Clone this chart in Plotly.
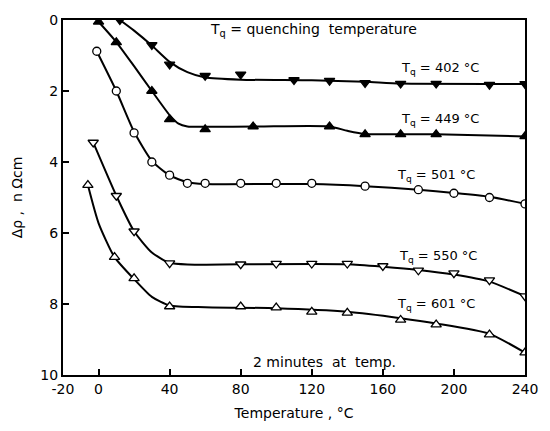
import plotly.graph_objects as go

# ---- data ----
x_402 = [12, 30, 40, 60, 80, 110, 130, 150, 170, 190, 220, 240]
y_402 = [0.0, 0.70, 1.25, 1.57, 1.53, 1.69, 1.71, 1.77, 1.79, 1.79, 1.82, 1.80]
cx_402 = [12, 20, 30, 40, 50, 60, 80, 120, 150, 170, 240]
cy_402 = [0.0, 0.30, 0.72, 1.18, 1.47, 1.62, 1.68, 1.70, 1.74, 1.79, 1.80]

x_449 = [0, 10, 30, 40, 60, 87, 130, 150, 170, 190, 240]
y_449 = [0.05, 0.63, 2.0, 2.8, 3.08, 3.0, 3.0, 3.22, 3.22, 3.22, 3.28]
cx_449 = [0, 10, 20, 30, 40, 45, 50, 60, 90, 130, 140, 150, 190, 240]
cy_449 = [0.05, 0.62, 1.30, 2.0, 2.68, 2.92, 3.0, 3.01, 3.0, 3.0, 3.12, 3.21, 3.22, 3.28]

x_501 = [-1, 10, 20, 30, 40, 50, 60, 80, 100, 120, 150, 180, 200, 220, 240]
y_501 = [0.88, 2.0, 3.18, 4.0, 4.37, 4.6, 4.6, 4.6, 4.6, 4.6, 4.68, 4.78, 4.88, 5.0, 5.18]
cx_501 = [-1, 10, 20, 30, 40, 50, 60, 100, 120, 150, 180, 200, 220, 240]
cy_501 = [0.88, 2.0, 3.15, 3.97, 4.38, 4.57, 4.62, 4.62, 4.62, 4.68, 4.78, 4.87, 4.98, 5.18]

x_550 = [-3, 10, 20, 40, 80, 100, 120, 140, 160, 180, 200, 220, 240]
y_550 = [3.45, 4.95, 5.95, 6.85, 6.88, 6.86, 6.86, 6.86, 6.93, 7.05, 7.13, 7.33, 7.78]
cx_550 = [-3, 10, 20, 30, 40, 50, 80, 140, 160, 180, 200, 220, 240]
cy_550 = [3.45, 4.95, 5.95, 6.55, 6.84, 6.89, 6.88, 6.88, 6.95, 7.04, 7.17, 7.37, 7.78]

x_601 = [-6, 9, 20, 40, 80, 100, 120, 140, 170, 190, 220, 240]
y_601 = [4.65, 6.68, 7.28, 8.07, 8.07, 8.1, 8.22, 8.25, 8.45, 8.58, 8.86, 9.37]
cx_601 = [-6, 0, 9, 20, 30, 40, 60, 100, 140, 170, 190, 220, 240]
cy_601 = [4.65, 5.72, 6.68, 7.30, 7.80, 8.04, 8.09, 8.12, 8.22, 8.40, 8.55, 8.84, 9.37]

labels = ["402", "449", "501", "550", "601"]
label_x = [192, 192, 190, 191, 190]
label_y = [1.36, 2.80, 4.37, 6.66, 8.0]

x_ticks = [-20, 0, 40, 80, 120, 160, 200, 240]
y_ticks = [0, 2, 4, 6, 8, 10]

FONT = "DejaVu Sans"

series = [
    (x_402, y_402, cx_402, cy_402, "triangle-down", "black"),
    (x_449, y_449, cx_449, cy_449, "triangle-up", "black"),
    (x_501, y_501, cx_501, cy_501, "circle", "white"),
    (x_550, y_550, cx_550, cy_550, "triangle-down", "white"),
    (x_601, y_601, cx_601, cy_601, "triangle-up", "white"),
]

fig = go.Figure()
for xs, ys, cxs, cys, sym, fill in series:
    fig.add_trace(go.Scatter(x=cxs, y=cys, mode="lines",
                             line=dict(color="black", width=2, shape="spline", smoothing=0.6),
                             hoverinfo="skip", showlegend=False))
for xs, ys, cxs, cys, sym, fill in series:
    fig.add_trace(go.Scatter(x=xs, y=ys, mode="markers",
                             marker=dict(symbol=sym, size=9 if sym != "circle" else 8,
                                         color=fill, line=dict(color="black", width=1.3)),
                             showlegend=False))

for lab, lx, ly in zip(labels, label_x, label_y):
    fig.add_annotation(x=lx, y=ly, text=f"T<sub>q</sub> = {lab} °C", showarrow=False,
                       font=dict(family=FONT, size=13, color="black"))

fig.add_annotation(x=121, y=0.27, text="T<sub>q</sub> = quenching  temperature", showarrow=False,
                   font=dict(family=FONT, size=14, color="black"))
fig.add_annotation(x=127, y=9.62, text="2 minutes  at  temp.", showarrow=False,
                   font=dict(family=FONT, size=14, color="black"))

fig.update_xaxes(range=[-20, 240], tickvals=x_ticks, ticktext=[str(v) for v in x_ticks],
                 ticks="inside", ticklen=6, tickwidth=1.5, tickcolor="black",
                 showline=True, linecolor="black", linewidth=2, mirror=True,
                 showgrid=False, zeroline=False,
                 title=dict(text="Temperature , °C", font=dict(family=FONT, size=14, color="black"), standoff=12),
                 tickfont=dict(family=FONT, size=14, color="black"))
fig.update_yaxes(range=[10, 0], tickvals=y_ticks, ticktext=[str(v) for v in y_ticks],
                 ticks="inside", ticklen=6, tickwidth=1.5, tickcolor="black",
                 showline=True, linecolor="black", linewidth=2, mirror=True,
                 showgrid=False, zeroline=False,
                 title=dict(text="Δρ ,  n Ωcm", font=dict(family=FONT, size=14, color="black"), standoff=14),
                 tickfont=dict(family=FONT, size=14, color="black"))

fig.update_layout(width=550, height=431, margin=dict(l=63, r=12, t=12, b=49),
                  paper_bgcolor="white", plot_bgcolor="white",
                  font=dict(family=FONT, color="black"))

fig.write_html("out.html")
